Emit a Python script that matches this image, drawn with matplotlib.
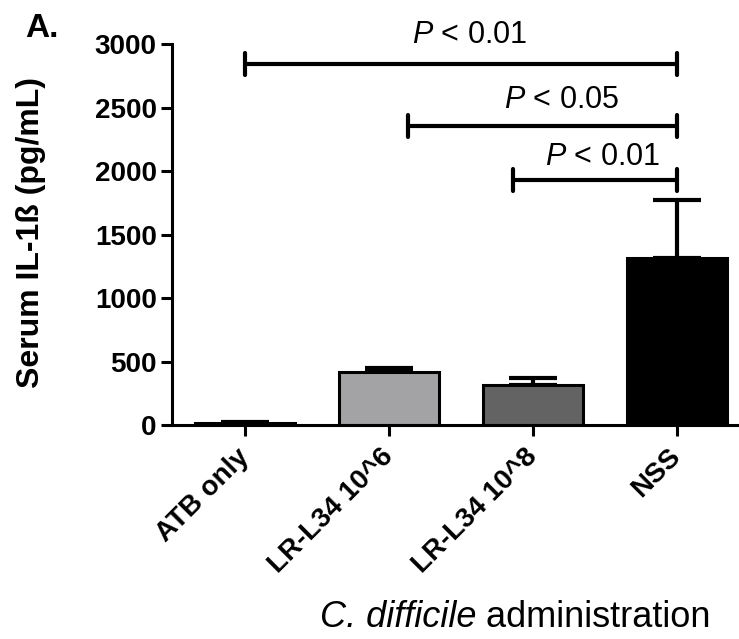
import matplotlib.pyplot as plt

plt.rcParams['font.family'] = ['Liberation Sans', 'DejaVu Sans']
plt.rcParams['mathtext.fontset'] = 'custom'
plt.rcParams['mathtext.rm'] = 'Liberation Sans'
plt.rcParams['mathtext.it'] = 'Liberation Sans:italic'

# groups and values
groups = ['ATB only', 'LR-L34 10^6', 'LR-L34 10^8', 'NSS']
means = [12, 418, 315, 1312]
sem = [15, 32, 55, 460]
colors = ['white', '#a3a3a6', '#636363', 'black']

# significance brackets: (left group pos, right group pos, height, label)
brackets = [
    (0.0, 3.0, 2843, ' < 0.01'),
    (1.13, 3.0, 2354, ' < 0.05'),
    (1.86, 3.0, 1929, ' < 0.01'),
]
label_pos = [(1.56, 3070), (2.2, 2559), (2.48, 2110)]

fig = plt.figure(figsize=(7.39, 6.39), dpi=100)
ax = fig.add_axes([172 / 739, 1 - 425 / 639, 1 - 172 / 739, (425 - 44) / 639])

x = list(range(len(groups)))
ax.bar(x, means, width=0.69, color=colors, edgecolor='black', linewidth=2.2, zorder=2)
ax.errorbar(x, means, yerr=[[0] * len(sem), sem], fmt='none', ecolor='black',
            elinewidth=3, capsize=17.5, capthick=3, zorder=1)

ax.set_xlim(-0.507, 3.43)
ax.set_ylim(0, 3000)
ax.set_yticks([0, 500, 1000, 1500, 2000, 2500, 3000])
ax.set_xticks(x)
ax.set_xticklabels(groups, rotation=45, ha='right', va='center', rotation_mode='anchor',
                   fontweight='bold', fontsize=20)
for lab in ax.get_yticklabels():
    lab.set_fontweight('bold')
    lab.set_fontsize(20)

for s in ['top', 'right']:
    ax.spines[s].set_visible(False)
for s in ['left', 'bottom']:
    ax.spines[s].set_linewidth(2.2)
ax.tick_params(axis='both', width=2.2, length=8)
ax.tick_params(axis='x', pad=12)
ax.tick_params(axis='y', pad=3)

# significance bars
for (x0, x1, h, txt), (tx, ty) in zip(brackets, label_pos):
    ax.plot([x0, x1], [h, h], color='black', lw=3, clip_on=False, solid_capstyle='butt')
    ax.plot([x0, x0], [h - 85, h + 85], color='black', lw=3, clip_on=False, solid_capstyle='round')
    ax.plot([x1, x1], [h - 85, h + 85], color='black', lw=3, clip_on=False, solid_capstyle='round')
    ax.text(tx, ty, r'$\mathit{P}$' + txt, ha='center', va='center', fontsize=22,
            clip_on=False)

fig.text(31 / 739, 1 - 233 / 639, 'Serum IL-1ß (pg/mL)', rotation=90, ha='center',
         va='center', fontsize=23, fontweight='bold')
# x axis title: italic species name followed by plain text
t1 = fig.text(320 / 739, 1 - 635 / 639, 'C. difficile', style='italic', ha='left',
              va='bottom', fontsize=26)
ax.annotate(' administration', xy=(1, 0), xycoords=t1, ha='left', va='bottom',
            fontsize=26, annotation_clip=False)
fig.text(25 / 739, 1 - 37 / 639, 'A.', ha='left', va='baseline', fontsize=24, fontweight='bold')

fig.savefig('out.png', dpi=100)
